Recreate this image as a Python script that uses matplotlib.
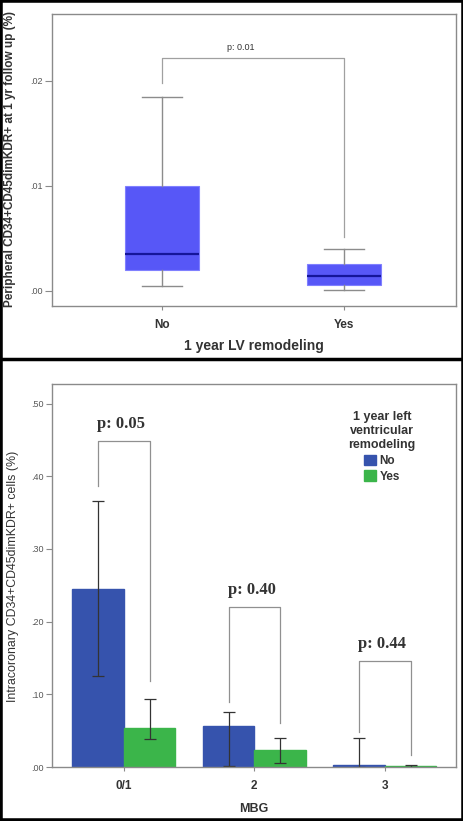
import matplotlib
matplotlib.use("Agg")
import matplotlib.pyplot as plt
from matplotlib.patches import Rectangle, Patch
import numpy as np

plt.rcParams['font.family'] = ['Liberation Sans', 'DejaVu Sans']

# ---- top panel data (box plot) ----
box_categories = ["No", "Yes"]
box_whislo = [0.00048, 0.00010]
box_q1 = [0.0020, 0.00057]
box_med = [0.00352, 0.00143]
box_q3 = [0.0100, 0.00257]
box_whishi = [0.01848, 0.0040]
top_yticks = [0.00, 0.01, 0.02]
top_yticklabels = [".00", ".01", ".02"]
top_p_text = "p: 0.01"
top_bracket = [0.0198, 0.0222, 0.00514]  # left end, top, right end

# ---- bottom panel data (grouped bars) ----
mbg_groups = ["0/1", "2", "3"]
series_names = ["No", "Yes"]
no_means = [0.2444, 0.0569, 0.0030]
no_err_lo = [0.125, 0.002, 0.000]
no_err_hi = [0.3663, 0.0752, 0.0404]
yes_means = [0.0536, 0.0234, 0.0015]
yes_err_lo = [0.039, 0.006, 0.0005]
yes_err_hi = [0.094, 0.040, 0.0030]
p_texts = ["p: 0.05", "p: 0.40", "p: 0.44"]
bracket_left = [0.386, 0.0899, 0.0486]
bracket_top = [0.4485, 0.2205, 0.1458]
bracket_right = [0.119, 0.060, 0.0165]
bot_yticks = [0.0, 0.1, 0.2, 0.3, 0.4, 0.5]
bot_yticklabels = [".00", ".10", ".20", ".30", ".40", ".50"]

fig = plt.figure(figsize=(4.64, 8.21), dpi=100)
W, H = 464, 821

def fx(px):
    return px / W

def fy(py):
    return 1 - py / H

spine_col = "#8a8a8a"
tick_col = "#555555"
text_col = "#333333"

# ---------------- top panel ----------------
ax1 = fig.add_axes([fx(52), fy(306), fx(456) - fx(52), fy(14) - fy(306)])
stats = []
for i in range(len(box_categories)):
    stats.append(dict(med=box_med[i], q1=box_q1[i], q3=box_q3[i],
                      whislo=box_whislo[i], whishi=box_whishi[i],
                      fliers=[], label=box_categories[i]))
ax1.bxp(stats, positions=range(len(box_categories)), widths=0.407,
        patch_artist=True, showfliers=False,
        boxprops=dict(facecolor="#5757f7", edgecolor="#8080ff", linewidth=0.8),
        medianprops=dict(color="#15159a", linewidth=1.6),
        whiskerprops=dict(color="#8c8c8c", linewidth=1.0),
        capprops=dict(color="#8c8c8c", linewidth=1.0),
        capwidths=0.22)
ax1.set_xlim(-0.604, 1.615)
ax1.set_ylim(-0.00143, 0.02638)
ax1.set_yticks(top_yticks)
ax1.set_yticklabels(top_yticklabels, fontsize=6.5, color=tick_col)
ax1.set_xticks(range(len(box_categories)))
ax1.set_xticklabels(box_categories, fontsize=8.5, fontweight="bold", color=text_col)
ax1.tick_params(axis="y", length=5, color=spine_col, pad=2)
ax1.tick_params(axis="x", length=3, color=spine_col, pad=6)
for s in ax1.spines.values():
    s.set_color(spine_col)
    s.set_linewidth(1.0)
ax1.plot([0, 0, 1, 1], [top_bracket[0], top_bracket[1], top_bracket[1], top_bracket[2]],
         color="#a0a0a0", linewidth=0.9)
ax1.text(0.43, top_bracket[1] + 0.0006, top_p_text, ha="center", va="bottom",
         fontsize=6.5, color=text_col)
ax1.set_xlabel("1 year LV remodeling", fontsize=10, fontweight="bold", color=text_col,
               labelpad=6)
fig.text(fx(10), fy(159), "Peripheral CD34+CD45dimKDR+ at 1 yr follow up (%)",
         rotation=90, ha="center", va="center", fontsize=8.5, fontweight="bold",
         color=text_col)

# ---------------- bottom panel ----------------
ax2 = fig.add_axes([fx(52), fy(767), fx(456) - fx(52), fy(384) - fy(767)])
x = np.arange(len(mbg_groups))
bw = 0.395
no_col = "#3653ad"
yes_col = "#3bb54a"
ax2.bar(x - bw / 2, no_means, width=bw, color=no_col, edgecolor=no_col, label=series_names[0])
ax2.bar(x + bw / 2, yes_means, width=bw, color=yes_col, edgecolor=yes_col, label=series_names[1])
no_lo = np.array(no_means) - np.array(no_err_lo)
no_hi = np.array(no_err_hi) - np.array(no_means)
yes_lo = np.array(yes_means) - np.array(yes_err_lo)
yes_hi = np.array(yes_err_hi) - np.array(yes_means)
ax2.errorbar(x - bw / 2, no_means, yerr=[no_lo, no_hi], fmt="none", ecolor="#333333",
             elinewidth=0.9, capsize=4.5, capthick=0.9)
ax2.errorbar(x + bw / 2, yes_means, yerr=[yes_lo, yes_hi], fmt="none", ecolor="#333333",
             elinewidth=0.9, capsize=4.5, capthick=0.9)
for i in range(len(mbg_groups)):
    ax2.plot([x[i] - bw / 2, x[i] - bw / 2, x[i] + bw / 2, x[i] + bw / 2],
             [bracket_left[i], bracket_top[i], bracket_top[i], bracket_right[i]],
             color="#909090", linewidth=0.9)
    ax2.text(x[i] - 0.02, bracket_top[i] + 0.012, p_texts[i], ha="center", va="bottom",
             fontsize=12, fontweight="bold", family=["Liberation Serif", "DejaVu Serif"],
             color=text_col)
ax2.set_xlim(-0.55, 2.545)
ax2.set_ylim(0, 0.527)
ax2.set_yticks(bot_yticks)
ax2.set_yticklabels(bot_yticklabels, fontsize=6.5, color=tick_col)
ax2.set_xticks(x)
ax2.set_xticklabels(mbg_groups, fontsize=8.5, fontweight="bold", color=text_col)
ax2.tick_params(axis="y", length=4, color=spine_col, pad=2)
ax2.tick_params(axis="x", length=3, color=spine_col, pad=6)
for s in ax2.spines.values():
    s.set_color(spine_col)
    s.set_linewidth(1.0)
ax2.set_xlabel("MBG", fontsize=9, fontweight="bold", color=text_col, labelpad=8)
fig.text(fx(13), fy(576), "Intracoronary CD34+CD45dimKDR+ cells (%)",
         rotation=90, ha="center", va="center", fontsize=8.9, color=text_col)
leg = ax2.legend(handles=[Patch(facecolor=no_col, edgecolor=no_col, label="No"),
                          Patch(facecolor=yes_col, edgecolor=yes_col, label="Yes")],
                 title="1 year left\nventricular\nremodeling", loc="upper right",
                 bbox_to_anchor=(0.92, 0.95), frameon=False, fontsize=8.5,
                 title_fontsize=9, handlelength=1.0, handleheight=1.0,
                 handletextpad=0.3, labelspacing=0.3, borderpad=0.2)
leg.get_title().set_fontweight("bold")
leg.get_title().set_multialignment("center")
leg.get_title().set_color(text_col)
for t in leg.get_texts():
    t.set_fontweight("bold")
    t.set_color(text_col)

# ---- frame borders ----
fig.add_artist(Rectangle((0, 0), 1, 1, transform=fig.transFigure, fill=False,
                         edgecolor="black", linewidth=4))
fig.add_artist(plt.Line2D([0, 1], [fy(359), fy(359)], transform=fig.transFigure,
                          color="black", linewidth=2.5))

fig.savefig("out.png", dpi=100)
